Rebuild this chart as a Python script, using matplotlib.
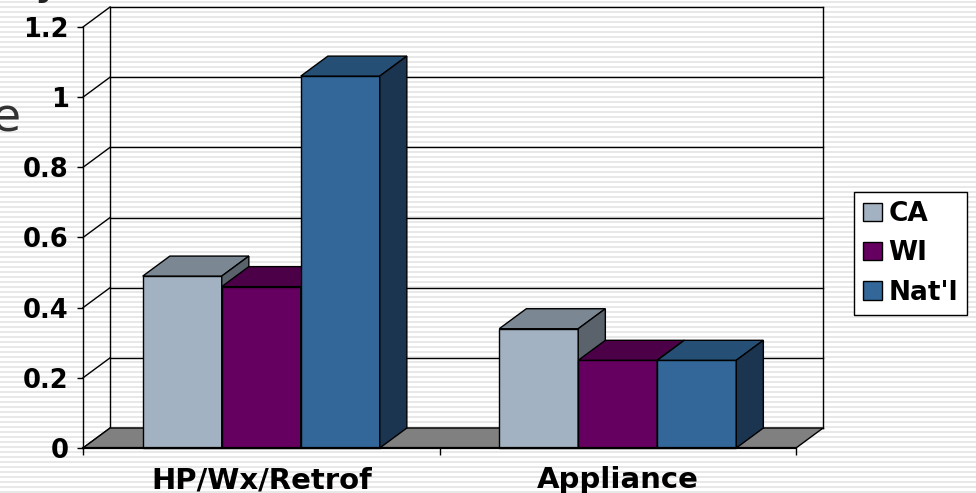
# 3D-style clustered column chart (Excel look)

import numpy as np
import matplotlib.pyplot as plt
from matplotlib.patches import Rectangle, Polygon, Patch

# Data
categories = ['HP/Wx/Retrof', 'Appliance']
series = ['CA', 'WI', "Nat'l"]
values_ca = [0.49, 0.34]
values_wi = [0.46, 0.25]
values_natl = [1.06, 0.25]
y_ticks = [0, 0.2, 0.4, 0.6, 0.8, 1.0, 1.2]
y_tick_labels = ['0', '0.2', '0.4', '0.6', '0.8', '1', '1.2']

# colours: front, top, side
front_cols = ['#A3B2C2', '#660060', '#336699']
top_cols = ['#7B8894', '#4C0048', '#264F75']
side_cols = ['#5A636B', '#330030', '#1B3450']

W, H = 976, 493
fig = plt.figure(figsize=(W / 100, H / 100), dpi=100)

# striped slide background
bg = fig.add_axes([0, 0, 1, 1], zorder=-5)
bg.set_xlim(0, W)
bg.set_ylim(0, H)
bg.axis('off')
bg.hlines(np.arange(1.5, H, 5), 0, W, color='#e4e4e4', lw=1.2)

# partial text fragments cut by the frame (as in the slide)
fig.text(20 / W, 1 - 132 / H, 'e', ha='right', va='baseline',
         fontsize=34, color='#333333')
fig.text(49 / W, 1 + 7 / H, 'y', ha='center', va='baseline',
         fontsize=34, color='#222222')

ax = fig.add_axes([83 / W, 45 / H, 713 / W, 421 / H])
ax.set_facecolor('none')
ax.set_xlim(0, 2)
ax.set_ylim(0, 1.2)

# depth offset of the 3D box in data units
dx, dy = 0.076, 0.057

# back wall and gridlines
for v in y_ticks:
    ax.plot([dx, 2 + dx], [v + dy, v + dy], color='black', lw=1, clip_on=False, zorder=1)
    ax.plot([0, dx], [v, v + dy], color='black', lw=1, clip_on=False, zorder=1)
ax.plot([dx, dx], [dy, 1.2 + dy], color='black', lw=1, clip_on=False, zorder=1)
ax.plot([2 + dx, 2 + dx], [dy, 1.2 + dy], color='black', lw=1, clip_on=False, zorder=1)

# floor
ax.add_patch(Polygon([(0, 0), (2, 0), (2 + dx, dy), (dx, dy)], closed=True,
                     facecolor='#808080', edgecolor='black', lw=1, clip_on=False, zorder=2))

# bars
w = 0.2216
data = [values_ca, values_wi, values_natl]
z = 3
for i in range(len(categories)):
    for j in range(len(series)):
        v = data[j][i]
        x0 = i + 0.5 - 1.5 * w + j * w
        ax.add_patch(Rectangle((x0, 0), w, v, facecolor=front_cols[j],
                               edgecolor='black', lw=1, clip_on=False, zorder=z))
        ax.add_patch(Polygon([(x0, v), (x0 + w, v), (x0 + w + dx, v + dy), (x0 + dx, v + dy)],
                             closed=True, facecolor=top_cols[j], edgecolor='black',
                             lw=1, clip_on=False, zorder=z))
        ax.add_patch(Polygon([(x0 + w, 0), (x0 + w + dx, dy), (x0 + w + dx, v + dy), (x0 + w, v)],
                             closed=True, facecolor=side_cols[j], edgecolor='black',
                             lw=1, clip_on=False, zorder=z))
        z += 1

# axes
for s in ['top', 'right']:
    ax.spines[s].set_visible(False)
ax.spines['left'].set_linewidth(1)
ax.spines['bottom'].set_linewidth(1.6)
ax.spines['bottom'].set_zorder(20)
ax.set_yticks(y_ticks)
ax.set_yticklabels(y_tick_labels, fontsize=18.5, fontweight='bold')
ax.tick_params(axis='y', direction='out', length=4.3, width=1, pad=6)
ax.set_xticks([0, 1, 2])
ax.set_xticklabels([])
ax.tick_params(axis='x', which='major', direction='out', length=5, width=1)
ax.set_xticks([0.5, 1.5], minor=True)
ax.set_xticklabels(categories, minor=True, fontsize=21, fontweight='bold')
ax.tick_params(axis='x', which='minor', length=0, pad=13)

# legend
handles = [Patch(facecolor=c, edgecolor='black', lw=1) for c in front_cols]
leg = fig.legend(handles, series, loc='upper left',
                 bbox_to_anchor=(854 / W, 1 - 192 / H), borderaxespad=0,
                 prop={'size': 19, 'weight': 'bold'}, fancybox=False,
                 edgecolor='black', framealpha=1, handlelength=0.7,
                 handleheight=0.7, handletextpad=0.25, labelspacing=0.5,
                 borderpad=0.35)
leg.get_frame().set_linewidth(1)

plt.savefig('out.png', dpi=100)
